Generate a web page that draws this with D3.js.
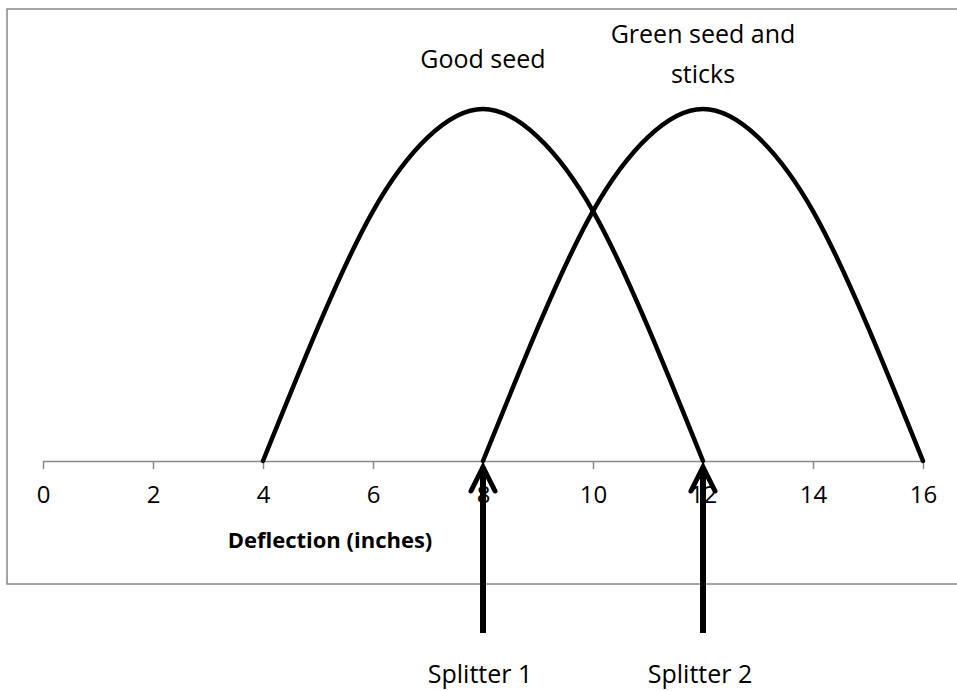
<!DOCTYPE html>
<html>
<head>
<meta charset="utf-8">
<script src="https://cdn.jsdelivr.net/npm/d3@7"></script>
<style>
  body { margin: 0; background: #fff; }
  svg text { font-family: "Open Sans", "Noto Sans", sans-serif; fill: #000; }
</style>
</head>
<body>
<svg width="957" height="691"></svg>
<script>
// values (relative height, peak = 100)
const deflection = [4, 5, 6, 7, 8, 9, 10, 11, 12, 13, 14, 15, 16];
const goodSeed = [0, 38, 71, 92, 100, 92, 71, 38, 0, null, null, null, null];
const greenSeed = [null, null, null, null, 0, 38, 71, 92, 100, 92, 71, 38, 0];
const xTicks = [0, 2, 4, 6, 8, 10, 12, 14, 16];
const splitters = [
  { x: 8, label: "Splitter 1" },
  { x: 12, label: "Splitter 2" }
];
const curveLabels = [
  { x: 8, lines: ["Good seed"] },
  { x: 12, lines: ["Green seed and", "sticks"] }
];

const svg = d3.select("svg");

const x = d3.scaleLinear().domain([0, 16]).range([43, 923]);
const y = d3.scaleLinear().domain([0, 100]).range([461, 109]);

// chart frame (right edge runs off the picture)
svg.append("rect")
  .attr("x", 7).attr("y", 9)
  .attr("width", 1000).attr("height", 575)
  .attr("fill", "none")
  .attr("stroke", "#878787")
  .attr("stroke-width", 1.5);

// x axis
const axis = svg.append("g")
  .attr("transform", `translate(0,${y(0)})`)
  .call(d3.axisBottom(x).tickValues(xTicks).tickSize(8).tickPadding(17).tickSizeOuter(0));
axis.select(".domain").attr("stroke", "#8a8a8a").attr("stroke-width", 1.5);
axis.selectAll(".tick line").attr("stroke", "#8a8a8a").attr("stroke-width", 1.5);
axis.selectAll(".tick text")
  .attr("font-size", 24)
  .attr("font-family", "'Open Sans', sans-serif")
  .attr("fill", "#000")
  .attr("dy", "0.71em");

svg.append("text")
  .attr("x", 330).attr("y", 548)
  .attr("text-anchor", "middle")
  .attr("font-size", 22)
  .attr("font-weight", "bold")
  .text("Deflection (inches)");

// curves
const line = d3.line()
  .defined(d => d[1] != null)
  .x(d => x(d[0]))
  .y(d => y(d[1]))
  .curve(d3.curveNatural);

[goodSeed, greenSeed].forEach(s => {
  svg.append("path")
    .datum(deflection.map((d, i) => [d, s[i]]))
    .attr("d", line)
    .attr("fill", "none")
    .attr("stroke", "#000")
    .attr("stroke-width", 4.5)
    .attr("stroke-linecap", "round");
});

// curve labels
curveLabels.forEach(c => {
  const t = svg.append("text")
    .attr("text-anchor", "middle")
    .attr("font-size", 25);
  const top = c.lines.length > 1 ? 43 : 68;
  c.lines.forEach((l, i) => {
    t.append("tspan").attr("x", x(c.x)).attr("y", top + i * 40).text(l);
  });
});

// splitter arrows
splitters.forEach(s => {
  const cx = x(s.x);
  const tip = y(0) + 6;
  svg.append("line")
    .attr("x1", cx).attr("x2", cx)
    .attr("y1", 633).attr("y2", tip)
    .attr("stroke", "#000").attr("stroke-width", 6);
  svg.append("path")
    .attr("d", `M${cx - 12},${tip + 24}L${cx},${tip}L${cx + 12},${tip + 24}`)
    .attr("fill", "none")
    .attr("stroke", "#000").attr("stroke-width", 5)
    .attr("stroke-linecap", "round")
    .attr("stroke-linejoin", "miter");
  svg.append("text")
    .attr("x", cx - 3).attr("y", 683)
    .attr("text-anchor", "middle")
    .attr("font-size", 25)
    .text(s.label);
});
</script>
</body>
</html>
